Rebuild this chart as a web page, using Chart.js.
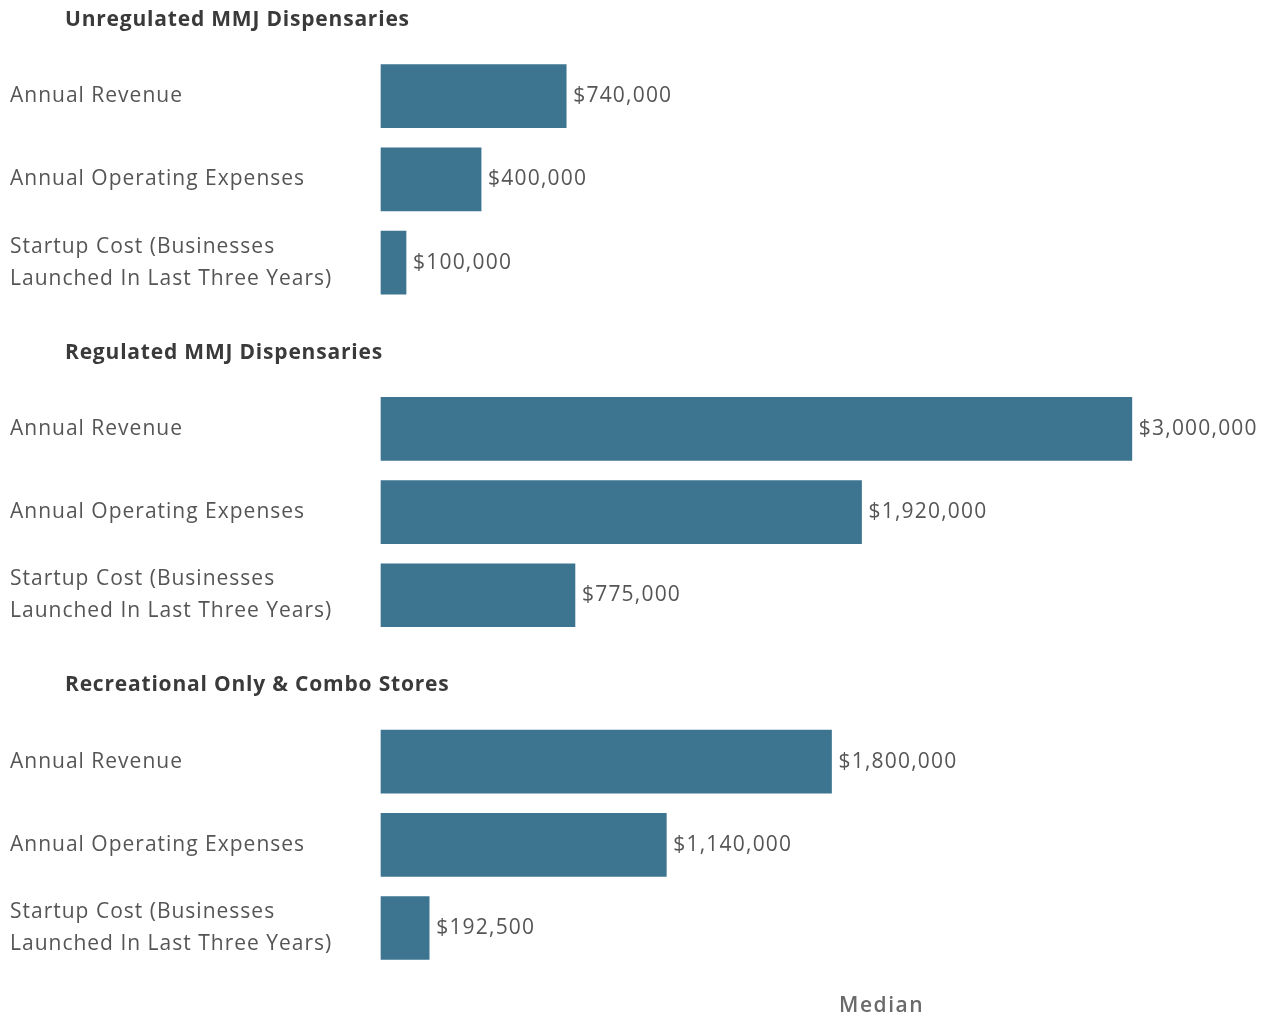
<!DOCTYPE html>
<html>
<head>
<meta charset="utf-8">
<script src="https://cdn.jsdelivr.net/npm/chart.js@4.4.1/dist/chart.umd.min.js"></script>
<style>
  html, body { margin: 0; padding: 0; background: #fff; }
  #wrap { width: 1262px; height: 1017px; position: relative; }
</style>
</head>
<body>
<div id="wrap"><canvas id="chart"></canvas></div>
<script>
// Group headings (drawn on the empty heading rows)
const groupTitles = [
    'Unregulated MMJ Dispensaries',
    'Regulated MMJ Dispensaries',
    'Recreational Only & Combo Stores'
];

// Row labels, heading rows are empty strings
const rowLabels = [
    '',
    'Annual Revenue',
    'Annual Operating Expenses',
    ['Startup Cost (Businesses', 'Launched In Last Three Years)'],
    '',
    'Annual Revenue',
    'Annual Operating Expenses',
    ['Startup Cost (Businesses', 'Launched In Last Three Years)'],
    '',
    'Annual Revenue',
    'Annual Operating Expenses',
    ['Startup Cost (Businesses', 'Launched In Last Three Years)']
];

// Median values in dollars (null on heading rows)
const medianValues = [
    null, 740000, 400000, 100000,
    null, 3000000, 1920000, 775000,
    null, 1800000, 1140000, 192500
];

const axisTitle = 'Median';

const BAR_COLOR = '#3d7590';
const TEXT_GRAY = '#555555';
const FONT = '"Open Sans", Lato, sans-serif';

function formatDollars(v) {
    return '$' + v.toLocaleString('en-US');
}

// Draw row labels, headings, value labels and the "Median" caption
const annotations = {
    id: 'annotations',
    afterDatasetsDraw(chart) {
        const ctx = chart.ctx;
        const meta = chart.getDatasetMeta(0);
        const yScale = chart.scales.y;
        const xScale = chart.scales.x;
        ctx.save();
        ctx.textBaseline = 'middle';
        ctx.textAlign = 'left';

        // row labels on the left
        ctx.font = '21px ' + FONT;
        ctx.fillStyle = TEXT_GRAY;
        ctx.letterSpacing = '1px';
        rowLabels.forEach((lbl, i) => {
            if (lbl === '') return;
            const y = yScale.getPixelForValue(i);
            const lines = Array.isArray(lbl) ? lbl : [lbl];
            lines.forEach((line, k) => {
                ctx.fillText(line, 10, y + (k - (lines.length - 1) / 2) * 32);
            });
        });

        // value labels
        ctx.letterSpacing = '1.2px';
        meta.data.forEach((bar, i) => {
            const v = medianValues[i];
            if (v === null) return;
            ctx.fillText(formatDollars(v), bar.x + 7, bar.y);
        });

        // group headings
        ctx.font = 'bold 21px ' + FONT;
        ctx.fillStyle = '#3a3a3a';
        ctx.letterSpacing = '0.8px';
        let g = 0;
        rowLabels.forEach((lbl, i) => {
            if (lbl !== '') return;
            ctx.fillText(groupTitles[g++], 65, yScale.getPixelForValue(i) + 7);
        });

        // caption
        ctx.font = '600 21px ' + FONT;
        ctx.fillStyle = '#6a6a6a';
        ctx.letterSpacing = '1.5px';
        ctx.textAlign = 'center';
        ctx.fillText(axisTitle, xScale.getPixelForValue(2000000), 1006);
        ctx.restore();
    }
};

new Chart(document.getElementById('chart'), {
    type: 'bar',
    data: {
        labels: rowLabels,
        datasets: [{
            data: medianValues,
            backgroundColor: BAR_COLOR,
            borderWidth: 0,
            barThickness: 63,
            clip: false
        }]
    },
    options: {
        indexAxis: 'y',
        responsive: true,
        maintainAspectRatio: false,
        animation: false,
        layout: { padding: { left: 381, right: 5, top: 13, bottom: 89 } },
        plugins: {
            legend: { display: false },
            tooltip: { enabled: false }
        },
        scales: {
            x: {
                min: 0,
                max: 3500000,
                display: false
            },
            y: {
                display: false,
                offset: false
            }
        }
    },
    plugins: [annotations]
});
</script>
</body>
</html>
